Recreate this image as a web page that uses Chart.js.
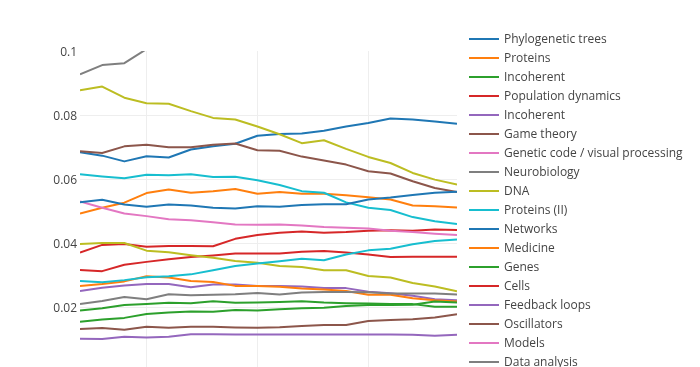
<!DOCTYPE html>
<html lang="en">
<head>
<meta charset="utf-8">
<title>Topic trends</title>
<script src="https://cdn.jsdelivr.net/npm/chart.js@4.4.1/dist/chart.umd.min.js"></script>
<style>
    html, body {
        margin: 0;
        padding: 0;
        width: 700px;
        height: 367px;
        overflow: hidden;
        background: #fff;
    }
    #chart-wrap {
        position: relative;
        width: 700px;
        height: 450px;
    }
    #topicChart {
        position: absolute;
        left: 0;
        top: 0;
    }
    #topic-legend {
        position: absolute;
        left: 469px;
        top: 30px;
        font-family: "Open Sans", verdana, arial, sans-serif;
        font-size: 12px;
        color: #444;
    }
    .legend-item {
        position: relative;
        height: 19px;
        line-height: 19px;
        white-space: nowrap;
    }
    .legend-item .swatch {
        position: absolute;
        left: 0;
        top: 8px;
        width: 30px;
        height: 2px;
    }
    .legend-item .name {
        position: absolute;
        left: 35px;
        top: -1px;
    }
</style>
</head>
<body>
<div id="chart-wrap">
    <canvas id="topicChart" width="700" height="450"></canvas>
    <div id="topic-legend"></div>
</div>
<script>
/*
 * Topic share per year, one line per topic.
 * Values. The x-axis labels and the last two
 * legend entries sit below the visible area there, so they are best guesses.
 */

const years = [1997, 1998, 1999, 2000, 2001, 2002, 2003, 2004, 2005,
               2006, 2007, 2008, 2009, 2010, 2011, 2012, 2013, 2014];

const topicNames = [
    'Phylogenetic trees', 'Proteins', 'Incoherent', 'Population dynamics', 'Incoherent',
    'Game theory', 'Genetic code / visual processing', 'Neurobiology', 'DNA', 'Proteins (II)',
    'Networks', 'Medicine', 'Genes', 'Cells', 'Feedback loops',
    'Oscillators', 'Models', 'Data analysis', 'Evolution', 'Signalling'
];

const yTicks = [0, 0.02, 0.04, 0.06, 0.08, 0.1];

const phylogeneticTrees = [0.0684, 0.0673, 0.0655, 0.0671, 0.0667, 0.0692, 0.0702, 0.0710, 0.0735, 0.0741, 0.0742, 0.0751, 0.0764, 0.0775, 0.0789, 0.0786, 0.0780, 0.0773];
const proteins = [0.0492, 0.0510, 0.0526, 0.0556, 0.0567, 0.0557, 0.0562, 0.0569, 0.0554, 0.0559, 0.0554, 0.0554, 0.0549, 0.0543, 0.0536, 0.0517, 0.0515, 0.0511];
const incoherentA = [0.0189, 0.0196, 0.0206, 0.0209, 0.0213, 0.0212, 0.0218, 0.0213, 0.0214, 0.0216, 0.0218, 0.0214, 0.0212, 0.0211, 0.0209, 0.0209, 0.0201, 0.0201];
const populationDynamics = [0.0370, 0.0394, 0.0397, 0.0388, 0.0391, 0.0391, 0.0390, 0.0413, 0.0425, 0.0432, 0.0436, 0.0432, 0.0434, 0.0438, 0.0440, 0.0438, 0.0442, 0.0441];
const incoherentB = [0.0250, 0.0260, 0.0267, 0.0272, 0.0272, 0.0262, 0.0270, 0.0270, 0.0266, 0.0266, 0.0264, 0.0259, 0.0259, 0.0248, 0.0243, 0.0235, 0.0224, 0.0221];
const gameTheory = [0.0687, 0.0681, 0.0702, 0.0707, 0.0699, 0.0699, 0.0707, 0.0711, 0.0690, 0.0688, 0.0670, 0.0658, 0.0645, 0.0624, 0.0617, 0.0593, 0.0572, 0.0559];
const geneticCode = [0.0530, 0.0510, 0.0492, 0.0484, 0.0474, 0.0471, 0.0465, 0.0458, 0.0457, 0.0458, 0.0455, 0.0450, 0.0448, 0.0445, 0.0438, 0.0434, 0.0429, 0.0425];
// runs off the top of the plot after 2000, later values are guesses
const neurobiology = [0.0927, 0.0956, 0.0962, 0.1006, 0.103, 0.105, 0.107, 0.108, 0.110, 0.111, 0.112, 0.113, 0.114, 0.115, 0.116, 0.117, 0.118, 0.119];
const dna = [0.0877, 0.0889, 0.0854, 0.0837, 0.0835, 0.0812, 0.0791, 0.0786, 0.0764, 0.0740, 0.0712, 0.0721, 0.0694, 0.0669, 0.0650, 0.0619, 0.0598, 0.0583];
const proteinsII = [0.0615, 0.0608, 0.0602, 0.0613, 0.0612, 0.0615, 0.0606, 0.0607, 0.0596, 0.0581, 0.0562, 0.0557, 0.0527, 0.0510, 0.0503, 0.0481, 0.0468, 0.0459];
const networks = [0.0527, 0.0535, 0.0520, 0.0513, 0.0520, 0.0517, 0.0510, 0.0508, 0.0515, 0.0513, 0.0519, 0.0521, 0.0521, 0.0536, 0.0542, 0.0550, 0.0557, 0.0560];
const medicine = [0.0266, 0.0272, 0.0280, 0.0296, 0.0292, 0.0281, 0.0278, 0.0266, 0.0266, 0.0263, 0.0258, 0.0255, 0.0250, 0.0238, 0.0238, 0.0227, 0.0221, 0.0217];
const genes = [0.0154, 0.0161, 0.0166, 0.0178, 0.0183, 0.0186, 0.0185, 0.0191, 0.0189, 0.0193, 0.0196, 0.0198, 0.0203, 0.0206, 0.0206, 0.0207, 0.0217, 0.0214];
const cells = [0.0316, 0.0312, 0.0332, 0.0341, 0.0349, 0.0356, 0.0361, 0.0367, 0.0367, 0.0367, 0.0373, 0.0375, 0.0370, 0.0364, 0.0356, 0.0357, 0.0357, 0.0357];
const feedbackLoops = [0.0101, 0.0100, 0.0107, 0.0105, 0.0107, 0.0115, 0.0115, 0.0114, 0.0114, 0.0114, 0.0114, 0.0114, 0.0114, 0.0114, 0.0114, 0.0113, 0.0110, 0.0113];
const oscillators = [0.0131, 0.0134, 0.0129, 0.0138, 0.0135, 0.0138, 0.0138, 0.0136, 0.0135, 0.0137, 0.0141, 0.0144, 0.0144, 0.0156, 0.0159, 0.0162, 0.0167, 0.0177];
// not visible in the reference (above the plotted range), guessed
const models = [0.198, 0.196, 0.199, 0.194, 0.192, 0.195, 0.191, 0.190, 0.188, 0.187, 0.189, 0.186, 0.185, 0.184, 0.186, 0.183, 0.182, 0.181];
const dataAnalysis = [0.0209, 0.0219, 0.0231, 0.0224, 0.0240, 0.0237, 0.0238, 0.0240, 0.0244, 0.0239, 0.0245, 0.0247, 0.0247, 0.0246, 0.0242, 0.0242, 0.0242, 0.0239];
const evolution = [0.0397, 0.0400, 0.0400, 0.0376, 0.0371, 0.0362, 0.0354, 0.0344, 0.0338, 0.0328, 0.0325, 0.0315, 0.0315, 0.0297, 0.0292, 0.0275, 0.0264, 0.0249];
const signalling = [0.0281, 0.0277, 0.0284, 0.0293, 0.0296, 0.0302, 0.0315, 0.0328, 0.0336, 0.0343, 0.0351, 0.0346, 0.0364, 0.0377, 0.0382, 0.0396, 0.0406, 0.0411];

const topicValues = [
    phylogeneticTrees, proteins, incoherentA, populationDynamics, incoherentB,
    gameTheory, geneticCode, neurobiology, dna, proteinsII,
    networks, medicine, genes, cells, feedbackLoops,
    oscillators, models, dataAnalysis, evolution, signalling
];

// plotly's default colour cycle
const palette = ['#1f77b4', '#ff7f0e', '#2ca02c', '#d62728', '#9467bd',
                 '#8c564b', '#e377c2', '#7f7f7f', '#bcbd22', '#17becf'];

const FONT = '"Open Sans", verdana, arial, sans-serif';
const GRID = '#eee';

/**
 * Builds the HTML legend to the right of the plot.
 */
function renderLegend() {
    const legend = document.getElementById('topic-legend');
    topicNames.forEach((name, i) => {
        const item = document.createElement('div');
        item.className = 'legend-item';
        const swatch = document.createElement('span');
        swatch.className = 'swatch';
        swatch.style.background = palette[i % palette.length];
        const label = document.createElement('span');
        label.className = 'name';
        label.textContent = name;
        item.appendChild(swatch);
        item.appendChild(label);
        legend.appendChild(item);
    });
}

/**
 * Renders the topic line chart.
 */
function renderTopicChart() {
    const ctx = document.getElementById('topicChart');
    if (!ctx) return;

    const datasets = topicValues.map((values, i) => ({
        label: topicNames[i],
        data: values,
        borderColor: palette[i % palette.length],
        backgroundColor: palette[i % palette.length],
        borderWidth: 2,
        pointRadius: 0,
        tension: 0,
        fill: false,
        clip: 0,
        borderJoinStyle: 'round',
        order: topicValues.length - i // later traces on top, like the original
    }));

    new Chart(ctx, {
        type: 'line',
        data: { labels: years, datasets: datasets },
        options: {
            responsive: false,
            animation: false,
            devicePixelRatio: 1,
            layout: { padding: { top: 51, right: 243, bottom: 49, left: 0 } },
            plugins: {
                legend: { display: false },
                tooltip: { enabled: false }
            },
            scales: {
                x: {
                    type: 'category',
                    offset: false,
                    border: { display: false },
                    grid: {
                        drawTicks: false,
                        lineWidth: 1,
                        color: (c) => (years[c.index] % 5 === 0 ? GRID : 'rgba(0,0,0,0)')
                    },
                    ticks: {
                        autoSkip: false,
                        maxRotation: 0,
                        padding: 6,
                        color: '#444',
                        font: { family: FONT, size: 12 },
                        callback: (v, i) => (years[i] % 5 === 0 ? String(years[i]) : '')
                    },
                    afterFit: (scale) => { scale.height = 30; }
                },
                y: {
                    min: yTicks[0],
                    max: yTicks[yTicks.length - 1],
                    border: { display: false },
                    afterBuildTicks: (scale) => {
                        scale.ticks = yTicks.map(v => ({ value: v }));
                    },
                    grid: {
                        drawTicks: false,
                        lineWidth: 1,
                        color: (c) => (c.tick && c.tick.value > 0 && c.tick.value < 0.1 ? GRID : 'rgba(0,0,0,0)')
                    },
                    ticks: {
                        padding: 3,
                        labelOffset: 2,
                        color: '#444',
                        font: { family: FONT, size: 12 },
                        callback: (v) => (v === 0 ? '' : String(+v.toFixed(2)))
                    },
                    afterFit: (scale) => { scale.width = 80; }
                }
            }
        }
    });
}

document.addEventListener('DOMContentLoaded', () => {
    renderLegend();
    renderTopicChart();
});
</script>
</body>
</html>
